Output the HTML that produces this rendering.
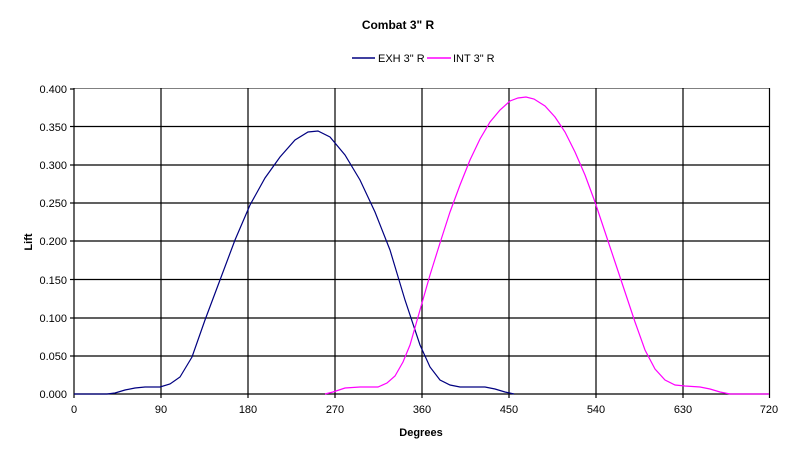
<!DOCTYPE html>
<html><head><meta charset="utf-8"><style>
body{margin:0;background:#fff;}
svg text{font-family:"Liberation Sans",Arial,sans-serif;font-size:11px;fill:#000;}
</style></head><body>
<svg width="796" height="458" viewBox="0 0 796 458" xmlns="http://www.w3.org/2000/svg">
<rect width="796" height="458" fill="#fff"/>
<text x="398" y="29" text-anchor="middle" font-weight="bold" style="font-size:12px">Combat 3" R</text>
<line x1="352" y1="58" x2="375" y2="58" stroke="#000080" stroke-width="1.5"/>
<text x="378" y="62">EXH 3" R</text>
<line x1="427" y1="58" x2="451" y2="58" stroke="#ff00ff" stroke-width="1.5"/>
<text x="453" y="62">INT 3" R</text>
<rect x="74" y="88.5" width="695.5" height="305.5" fill="#fff" stroke="#808080"/>
<g stroke="#000" stroke-width="1.2">
<line x1="74" y1="126.5" x2="769" y2="126.5"/><line x1="74" y1="165" x2="769" y2="165"/>
<line x1="74" y1="203" x2="769" y2="203"/><line x1="74" y1="241" x2="769" y2="241"/>
<line x1="74" y1="279.5" x2="769" y2="279.5"/><line x1="74" y1="318" x2="769" y2="318"/>
<line x1="74" y1="356" x2="769" y2="356"/><line x1="74" y1="394" x2="769" y2="394"/>
<line x1="161" y1="88" x2="161" y2="398"/><line x1="248" y1="88" x2="248" y2="398"/>
<line x1="335" y1="88" x2="335" y2="398"/><line x1="422" y1="88" x2="422" y2="398"/>
<line x1="509" y1="88" x2="509" y2="398"/><line x1="596" y1="88" x2="596" y2="398"/>
<line x1="683" y1="88" x2="683" y2="398"/><line x1="769.5" y1="88" x2="769.5" y2="398"/>
<line x1="74" y1="88" x2="74" y2="398"/>
<line x1="70" y1="89" x2="74" y2="89"/><line x1="70" y1="126.5" x2="74" y2="126.5"/><line x1="70" y1="165" x2="74" y2="165"/><line x1="70" y1="203" x2="74" y2="203"/><line x1="70" y1="241" x2="74" y2="241"/><line x1="70" y1="279.5" x2="74" y2="279.5"/><line x1="70" y1="318" x2="74" y2="318"/><line x1="70" y1="356" x2="74" y2="356"/>
</g>
<g text-anchor="end">
<text x="67" y="93">0.400</text><text x="67" y="131">0.350</text><text x="67" y="169">0.300</text><text x="67" y="207">0.250</text><text x="67" y="245">0.200</text><text x="67" y="284">0.150</text><text x="67" y="322">0.100</text><text x="67" y="360">0.050</text><text x="67" y="398">0.000</text>
</g>
<g text-anchor="middle">
<text x="74" y="413">0</text><text x="161" y="413">90</text><text x="248" y="413">180</text><text x="335" y="413">270</text><text x="422" y="413">360</text><text x="509" y="413">450</text><text x="596" y="413">540</text><text x="683" y="413">630</text><text x="769" y="413">720</text>
<text x="421" y="436" font-weight="bold">Degrees</text>
</g>
<text x="32" y="242" font-weight="bold" text-anchor="middle" transform="rotate(-90 32 242)">Lift</text>
<polyline fill="none" stroke="#000080" stroke-width="1.2" points="74,394 107,394 115,393 125,390 135,388 145,387 160,387 170,384 180,377 192,357 205,320 220,280 235,240 250,205 265,178 280,157 295,140 308,132 318,131 330,137 345,155 360,180 375,212 390,250 405,300 420,345 430,367 440,380 450,385 460,387 485,387 495,389 505,392 514,394"/>
<polyline fill="none" stroke="#ff00ff" stroke-width="1.2" points="325,394 333,392 345,388 360,387 378,387 387,383 395,376 403,362 410,345 420,310 430,275 440,243 450,212 460,185 470,160 480,139 490,122 500,110 510,101 518,98 526,97 534,99 545,106 555,117 565,132 575,152 585,175 595,202 605,232 615,262 625,292 635,322 645,350 655,369 665,380 675,385 685,386 700,387 710,389 720,392 730,394 769,394"/>
</svg>
</body></html>
